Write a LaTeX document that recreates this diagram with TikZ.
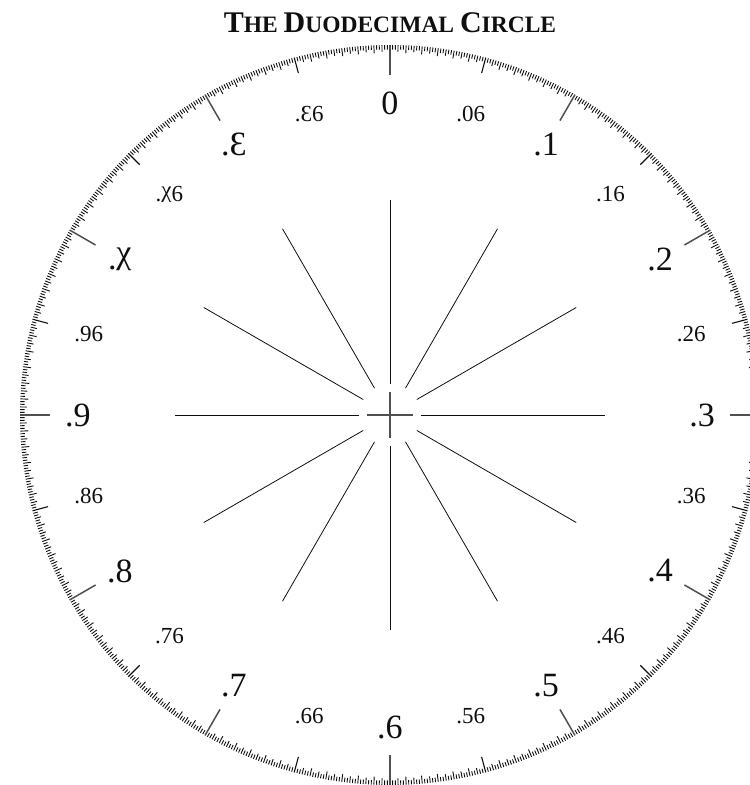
\documentclass[tikz,border=0pt]{standalone}
\usepackage{fontspec}
\setmainfont{Liberation Serif}
\definecolor{ink}{RGB}{15,15,15}
\definecolor{tickgray}{RGB}{80,80,80}
\tikzset{
  every picture/.style={ink, line cap=butt},
  % Skala
  tick/.style={line width=0.9pt},
  majortick/.style={tickgray, line width=1.5pt},
  % Speichen und Kreuz
  spoke/.style={line width=0.8pt},
  cross/.style={tickgray, line width=1.5pt},
  % Beschriftung
  biglbl/.style={font=\fontsize{34}{34}\selectfont, inner sep=0pt},
  smalllbl/.style={font=\fontsize{23}{23}\selectfont, inner sep=0pt},
}
\newcommand{\dek}{\raisebox{0.2em}{χ}}
\newcommand{\elv}{Ɛ}

\begin{document}
\begin{tikzpicture}[x=1pt, y=1pt]
  \useasboundingbox (-390,-370) rectangle (360,415);
  \coordinate (C) at (0,0);
  % ---------- Titel ----------
  \node[font=\bfseries, inner sep=0pt] (title) at (0,392)
    {\fontsize{30}{30}\selectfont T\fontsize{23.5}{23.5}\selectfont HE
     \fontsize{30}{30}\selectfont D\fontsize{23.5}{23.5}\selectfont UODECIMAL
     \fontsize{30}{30}\selectfont C\fontsize{23.5}{23.5}\selectfont IRCLE};
  % ---------- Skala ----------
  \foreach \i in {0,...,863} {
    \pgfmathsetmacro{\a}{90-\i*5/12}
    \pgfmathtruncatemacro{\mA}{mod(\i,72)}
    \pgfmathtruncatemacro{\mB}{mod(\i,36)}
    \pgfmathtruncatemacro{\mC}{mod(\i,6)}
    \pgfmathtruncatemacro{\mD}{mod(\i,3)}
    \ifnum\mA=0
      \draw[majortick] (\a:370) -- (\a:340);
    \else\ifnum\mB=0
      \draw[tick, line width=1.1pt] (\a:370) -- (\a:354);
    \else\ifnum\mC=0
      \draw[tick] (\a:370) -- (\a:362);
    \else\ifnum\mD=0
      \draw[tick] (\a:370) -- (\a:363.5);
    \else
      \draw[tick] (\a:370) -- (\a:365.5);
    \fi\fi\fi\fi
  }
  % ---------- Speichen ----------
  \foreach \k in {0,...,11}
    \draw[spoke] (\k*30:31) -- (\k*30:215);
  \draw[cross] (-23,0) -- (23,0) (0,-23) -- (0,23);
  % ---------- Ziffern ----------
  \foreach \k/\txt in {0/0, 1/.1, 2/.2, 3/.3, 4/.4, 5/.5, 6/.6, 7/.7, 8/.8, 9/.9, 10/.\dek, 11/.\elv}
    \node[biglbl] (d\k) at (90-\k*30:312) {\txt};
  \foreach \k/\txt in {0/.06, 1/.16, 2/.26, 3/.36, 4/.46, 5/.56, 6/.66, 7/.76, 8/.86, 9/.96, 10/.\dek6, 11/.\elv6}
    \node[smalllbl] (h\k) at (75-\k*30:312) {\txt};
\end{tikzpicture}
\end{document}
